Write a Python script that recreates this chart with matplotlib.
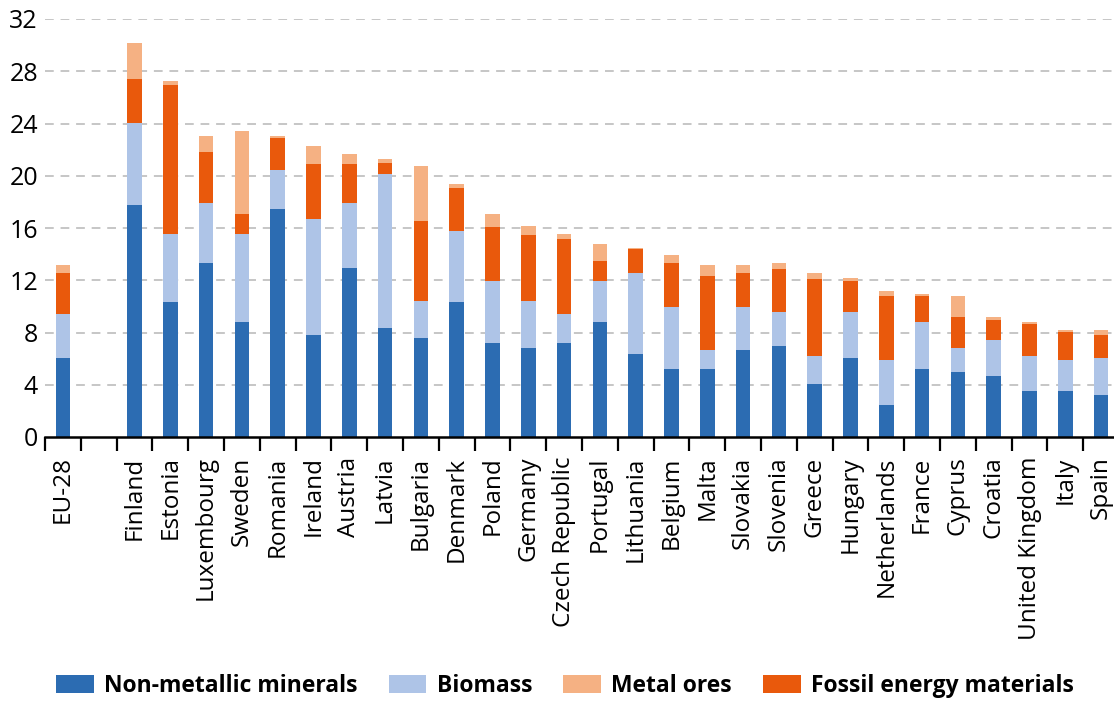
import matplotlib
matplotlib.use('Agg')
import matplotlib.pyplot as plt
import numpy as np

# Domestic material consumption per capita by material category (tonnes per capita)
countries = ['EU-28', 'Finland', 'Estonia', 'Luxembourg', 'Sweden', 'Romania', 'Ireland', 'Austria',
             'Latvia', 'Bulgaria', 'Denmark', 'Poland', 'Germany', 'Czech Republic', 'Portugal',
             'Lithuania', 'Belgium', 'Malta', 'Slovakia', 'Slovenia', 'Greece', 'Hungary',
             'Netherlands', 'France', 'Cyprus', 'Croatia', 'United Kingdom', 'Italy', 'Spain']
minerals = [6.05, 17.73, 10.33, 13.32, 8.78, 17.48, 7.78, 12.94, 8.34, 7.58, 10.33, 7.2, 6.81, 7.2,
            8.78, 6.38, 5.23, 5.23, 6.63, 6.97, 4.08, 6.05, 2.42, 5.23, 4.98, 4.64, 3.5, 3.5, 3.19]
biomass = [3.34, 6.31, 5.24, 4.59, 6.79, 2.98, 8.93, 4.97, 11.77, 2.81, 5.41, 4.77, 3.58, 2.19,
           3.19, 6.17, 4.75, 1.4, 3.35, 2.6, 2.15, 3.52, 3.45, 3.57, 1.83, 2.76, 2.73, 2.37, 2.86]
fossil = [3.16, 3.36, 11.4, 3.91, 1.53, 2.45, 4.16, 2.96, 0.89, 6.12, 3.35, 4.08, 5.07, 5.74,
          1.5, 1.82, 3.34, 5.67, 2.57, 3.32, 5.89, 2.37, 4.9, 1.97, 2.38, 1.53, 2.45, 2.17, 1.73]
metal = [0.59, 2.76, 0.26, 1.22, 6.32, 0.16, 1.38, 0.77, 0.28, 4.21, 0.25, 1.05, 0.69, 0.38,
         1.28, 0.12, 0.64, 0.84, 0.59, 0.46, 0.43, 0.26, 0.41, 0.2, 1.58, 0.26, 0.12, 0.13, 0.44]

C_MIN = '#2c6cb2'
C_BIO = '#aec4e7'
C_MET = '#f5b183'
C_FOS = '#e9590c'

plt.rcParams['font.family'] = ['Open Sans', 'DejaVu Sans']

fig = plt.figure(figsize=(11.14, 7.02), dpi=100)
ax = fig.add_axes([45 / 1114, 1 - 437 / 702, 1074 / 1114, 418 / 702])

x = np.array([0] + list(range(2, 2 + len(countries) - 1)))  # empty slot after EU-28
mn = np.array(minerals)
bi = np.array(biomass)
fo = np.array(fossil)
me = np.array(metal)
w = 0.41

ax.bar(x, mn, w, color=C_MIN, zorder=3, label='Non-metallic minerals')
ax.bar(x, bi, w, bottom=mn, color=C_BIO, zorder=3, label='Biomass')
ax.bar(x, fo, w, bottom=mn + bi, color=C_FOS, zorder=3, label='Fossil energy materials')
ax.bar(x, me, w, bottom=mn + bi + fo, color=C_MET, zorder=3, label='Metal ores')

ax.set_xlim(-0.5, 29.5)
ax.set_ylim(0, 32)
ax.set_yticks(range(0, 33, 4))
ax.tick_params(axis='y', length=0, pad=5, labelsize=18)

# major ticks on slot boundaries, labels on slot centres
ax.set_xticks(np.arange(-0.5, 30, 1))
ax.set_xticklabels([])
ax.tick_params(axis='x', which='major', length=10, width=1.6, color='black')
ax.set_xticks(x, minor=True)
ax.set_xticklabels(countries, minor=True, rotation=90, fontsize=17.5)
ax.tick_params(axis='x', which='minor', length=0, pad=14)

for yv in range(4, 33, 4):
    ax.axhline(yv, color='#c6c6c6', lw=1.4, linestyle=(0, (4.5, 3.5)), zorder=1)

for s in ['left', 'right', 'top']:
    ax.spines[s].set_visible(False)
ax.spines['bottom'].set_linewidth(1.8)
ax.spines['bottom'].set_zorder(4)

handles, labels = ax.get_legend_handles_labels()
order = [0, 1, 3, 2]
fig.legend([handles[i] for i in order], [labels[i] for i in order],
           loc='center', bbox_to_anchor=(565 / 1114, 16 / 702), ncol=4, frameon=False,
           prop={'weight': 'bold', 'size': 16.5}, handlelength=1.65, handleheight=0.8,
           handletextpad=0.45, columnspacing=1.35, borderpad=0, borderaxespad=0)

fig.savefig('out.png', dpi=100)
